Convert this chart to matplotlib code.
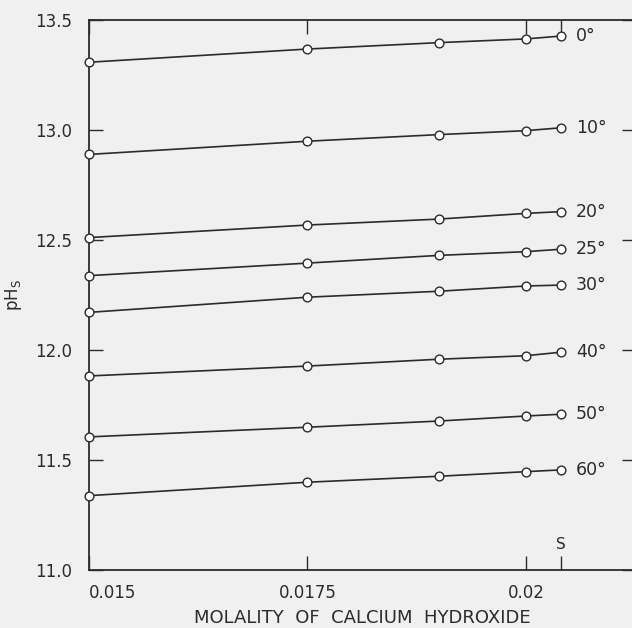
import matplotlib
matplotlib.use("Agg")
from matplotlib import pyplot as plt

# molality of Ca(OH)2 (last point = saturation, "S")
molality = [0.015, 0.0175, 0.0190, 0.0200, 0.0204]

temps = ["0°", "10°", "20°", "25°", "30°", "40°", "50°", "60°"]
ph_0 = [13.308, 13.368, 13.397, 13.414, 13.427]
ph_10 = [12.889, 12.949, 12.979, 12.997, 13.010]
ph_20 = [12.511, 12.568, 12.595, 12.621, 12.629]
ph_25 = [12.338, 12.395, 12.430, 12.447, 12.458]
ph_30 = [12.171, 12.240, 12.267, 12.291, 12.295]
ph_40 = [11.882, 11.927, 11.958, 11.974, 11.990]
ph_50 = [11.605, 11.649, 11.677, 11.700, 11.708]
ph_60 = [11.338, 11.399, 11.426, 11.447, 11.455]

x_ticks = [0.015, 0.0175, 0.02, 0.0204]
x_labels = ["0.015", "0.0175", "0.02", ""]
y_ticks = [11.0, 11.5, 12.0, 12.5, 13.0, 13.5]
y_labels = ["11.0", "11.5", "12.0", "12.5", "13.0", "13.5"]

ink = "#2b2b2b"
bg = "#f0f0f0"

fig = plt.figure(figsize=(6.32, 6.28), dpi=100, facecolor=bg)
ax = fig.add_axes([89 / 632, 1 - 570 / 628, (636 - 89) / 632, (570 - 20) / 628])
ax.set_facecolor(bg)

series = [ph_0, ph_10, ph_20, ph_25, ph_30, ph_40, ph_50, ph_60]
for label, ph in zip(temps, series):
    ax.plot(molality, ph, "-o", color=ink, lw=1.2, ms=6.3,
            mfc="white", mec=ink, mew=1.0, clip_on=False, zorder=3)
    ax.annotate(label, (molality[-1], ph[-1]), xytext=(11, 0),
                textcoords="offset points", va="center", ha="left",
                fontsize=12.5, color=ink)

ax.set_xlim(0.015, 0.02126)
ax.set_ylim(11.0, 13.5)

ax.set_xticks(x_ticks)
ax.set_xticklabels(x_labels)
ax.set_yticks(y_ticks)
ax.set_yticklabels(y_labels)
ax.tick_params(axis="both", direction="in", length=10, width=1.0, color=ink,
               labelsize=12, labelcolor=ink, top=True, right=True)
ax.tick_params(axis="x", pad=10)
ax.tick_params(axis="y", pad=12)
ax.get_xticklabels()[0].set_horizontalalignment("left")

for s in ax.spines.values():
    s.set_color(ink)
    s.set_linewidth(1.3)

ax.text(0.0204, 11.08, "S", ha="center", va="bottom", fontsize=11, color=ink)

ax.set_xlabel("MOLALITY  OF  CALCIUM  HYDROXIDE", fontsize=13, color=ink,
              labelpad=5)
ax.set_ylabel(r"pH$_\mathrm{S}$", fontsize=12, color=ink, labelpad=8)

fig.savefig("out.png", dpi=100, facecolor=bg)
